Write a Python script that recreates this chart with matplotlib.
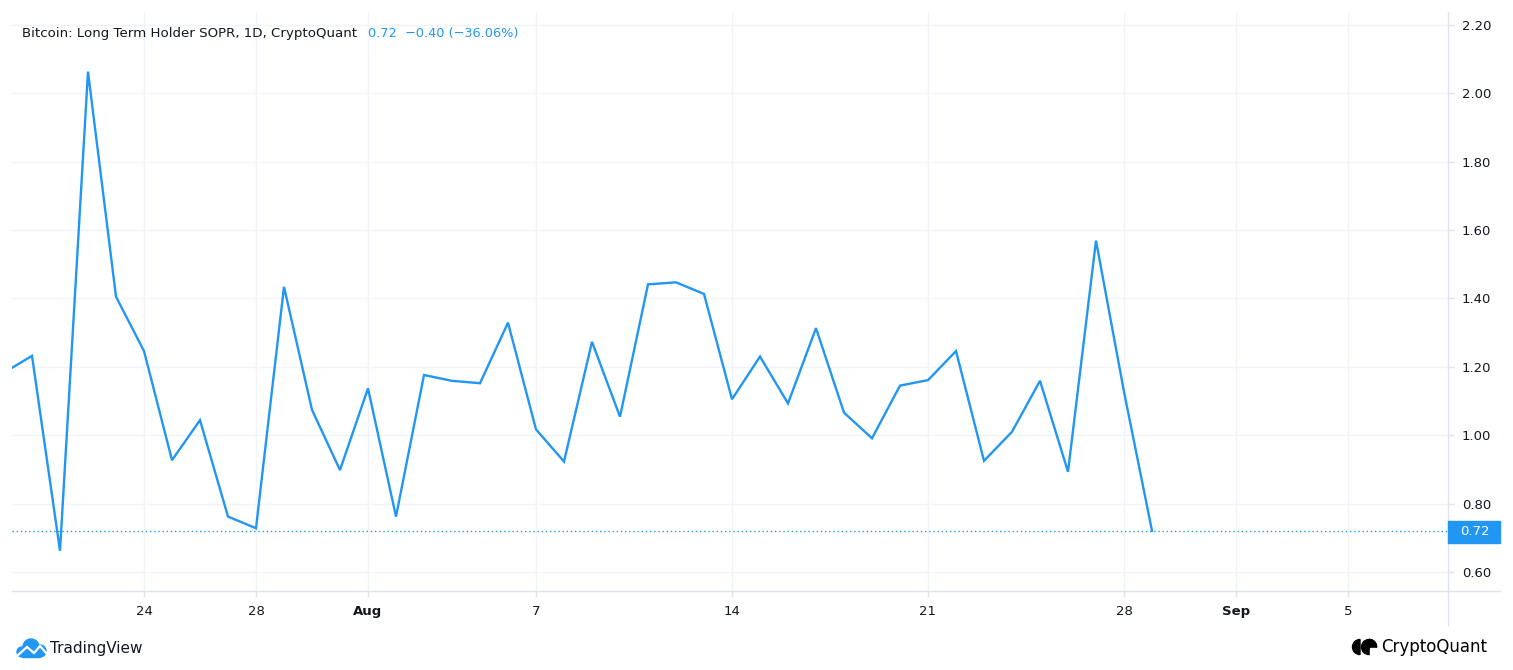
import matplotlib
matplotlib.use("Agg")
import matplotlib.pyplot as plt
import matplotlib.dates as mdates
from matplotlib.patches import Rectangle, Polygon, Wedge, Circle
import pandas as pd

# LTH SOPR daily values, Jul 19 - Aug 29
dates = pd.date_range("2023-07-19", "2023-08-29", freq="D")
sopr = [1.183, 1.232, 0.662, 2.063, 1.405, 1.246, 0.927, 1.044, 0.762, 0.728,
        1.434, 1.074, 0.898, 1.137, 0.762, 1.176, 1.159, 1.152, 1.329, 1.017,
        0.923, 1.273, 1.054, 1.441, 1.447, 1.413, 1.105, 1.230, 1.093, 1.313,
        1.066, 0.991, 1.145, 1.161, 1.246, 0.925, 1.010, 1.159, 0.893, 1.569,
        1.127, 0.7205]

tick_dates = ["2023-07-24", "2023-07-28", "2023-08-01", "2023-08-07", "2023-08-14",
              "2023-08-21", "2023-08-28", "2023-09-01", "2023-09-05"]
tick_labels = ["24", "28", "Aug", "7", "14", "21", "28", "Sep", "5"]
y_ticks = [0.6, 0.8, 1.0, 1.2, 1.4, 1.6, 1.8, 2.0, 2.2]

title = "Bitcoin: Long Term Holder SOPR, 1D, CryptoQuant"
last_txt = "0.72  \u22120.40 (\u221236.06%)"

BLUE = "#2196F3"
TXT = "#131722"
GRID = "#F0F3FA"
BORDER = "#E0E3EB"

W, H = 1513, 670
fig = plt.figure(figsize=(W / 100, H / 100), dpi=100)
fig.patch.set_facecolor("white")
ax = fig.add_axes([12 / W, (H - 591) / H, (1448 - 12) / W, (591 - 12) / H])

ax.plot(dates, sopr, color=BLUE, lw=1.7, solid_joinstyle="miter", zorder=3)
ax.axhline(sopr[-1], color=BLUE, lw=1, ls=(0, (1, 2)), zorder=2)

x0 = mdates.date2num(pd.Timestamp("2023-07-24")) - 132 / 28
x1 = mdates.date2num(pd.Timestamp("2023-09-05")) + 100 / 28
ax.set_xlim(x0, x1)
ax.set_ylim(0.6 - 19 / 342, 0.6 + 560 / 342)

ax.set_xticks([mdates.date2num(pd.Timestamp(d)) for d in tick_dates])
ax.set_xticklabels(tick_labels)
for lbl in ax.get_xticklabels():
    if lbl.get_text() in ("Aug", "Sep"):
        lbl.set_fontweight("bold")
ax.set_yticks(y_ticks)
ax.set_yticklabels(["%.2f" % v for v in y_ticks])
ax.yaxis.tick_right()

ax.tick_params(axis="both", colors=BORDER, labelcolor=TXT, labelsize=9.5,
               length=4, width=1)
ax.tick_params(axis="y", pad=6)
ax.tick_params(axis="x", pad=6)
ax.grid(True, color=GRID, lw=1)
ax.set_axisbelow(True)
for s in ["top", "left"]:
    ax.spines[s].set_visible(False)
for s in ["right", "bottom"]:
    ax.spines[s].set_color(BORDER)
    ax.spines[s].set_linewidth(1)

# extend the borders into the axis areas
ax.plot([1.0, 1.0], [0, -34 / 579], transform=ax.transAxes, color=BORDER,
        lw=1, clip_on=False)
ax.plot([1.0, 1.0 + 52 / 1436], [0, 0], transform=ax.transAxes, color=BORDER,
        lw=1, clip_on=False)

# last value label on the price scale
tr = ax.get_yaxis_transform()
ax.add_patch(Rectangle((1.0, sopr[-1] - 12 / 342), 52 / 1436, 22 / 342,
                       transform=tr, color=BLUE, clip_on=False, zorder=5))
ax.text(1.0 + 12 / 1436, sopr[-1] - 1 / 342, "%.2f" % sopr[-1], transform=tr,
        color="white", fontsize=9.5, va="center", ha="left", zorder=6)

# legend line
fig.text(22 / W, 1 - 33 / H, title, color=TXT, fontsize=9.6, va="center")
fig.text(368 / W, 1 - 33 / H, last_txt, color=BLUE, fontsize=9.3, va="center")

# footer overlay in pixel coordinates
fa = fig.add_axes([0, 0, 1, 1], facecolor="none")
fa.set_xlim(0, W)
fa.set_ylim(H, 0)
fa.axis("off")

# TradingView cloud logo
fa.add_patch(Circle((31, 647), 8, color=BLUE))
fa.add_patch(Circle((22, 652), 5, color=BLUE))
fa.add_patch(Circle((40, 651), 6, color=BLUE))
fa.add_patch(Rectangle((22, 650), 18, 7, color=BLUE))
fa.plot([17, 27, 34, 40, 47], [656, 647, 653, 646, 654], color="white", lw=1.6,
        solid_joinstyle="miter")
fa.text(50, 648, "TradingView", color=TXT, fontsize=11, va="center", ha="left")

# CryptoQuant logo
fa.add_patch(Wedge((1360, 647), 7.5, 90, 270, color="black"))
fa.add_patch(Circle((1369, 647), 7.5, color="black"))
fa.add_patch(Polygon([[1370, 648], [1377, 648], [1377, 655], [1370, 655]],
                     color="white"))
fa.add_patch(Wedge((1369, 647), 7.5, 270, 360, width=0.01, color="black"))
fa.text(1381, 647, "CryptoQuant", color="black", fontsize=12, va="center",
        ha="left")

fig.savefig("out.png", dpi=100, facecolor="white")
